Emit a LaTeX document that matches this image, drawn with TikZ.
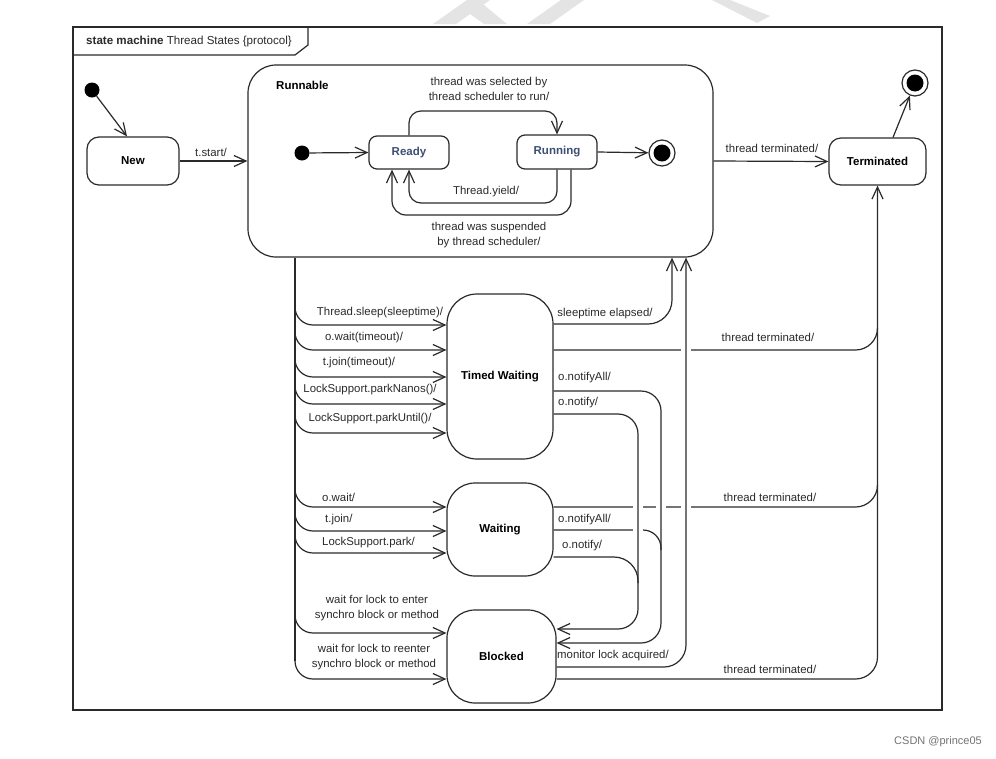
\documentclass[tikz,border=0pt]{standalone}
\usepackage{fontspec}
\setmainfont{Liberation Sans}
\usetikzlibrary{arrows.meta,calc}
\definecolor{lc}{HTML}{2A2A2A}
\definecolor{rtxt}{HTML}{3D4F73}
\definecolor{wmc}{HTML}{E4E4E4}
\begin{document}
\begin{tikzpicture}[x=1pt,y=1pt,
  lbl/.style={font=\fontsize{11.4}{15}\selectfont, text=lc, inner sep=0pt, align=center},
  stname/.style={font=\fontsize{11.5}{14}\selectfont\bfseries},
  statebox/.style={draw=lc, line width=1.2pt, rounded corners=#1, inner sep=0pt, fill=white},
  statebox/.default=10,
  tr/.style={draw=lc, line width=1.2pt, -{Straight Barb[length=12pt,width=11pt]}},
  plain/.style={draw=lc, line width=1.2pt},
  initst/.style={circle, fill=black, minimum size=15pt, inner sep=0pt},
  finst/.style={circle, draw=lc, line width=1.2pt, fill=white, minimum size=26pt, inner sep=0pt,
    path picture={\fill[black] (path picture bounding box.center) circle (8.5pt);}},
  gap/.style={fill=white}
]
\fill[white] (0,0) rectangle (996,-758);
\useasboundingbox (0,0) rectangle (996,-758);

% watermark fragments
\fill[wmc] (433,-24) -- (467,0) -- (490,0) -- (456,-24) -- cycle;
\fill[wmc] (478,0) -- (507,-24) -- (484,-24) -- (470,-14) -- cycle;
\fill[wmc] (527,-24) -- (561,0) -- (584,0) -- (550,-24) -- cycle;
\fill[wmc] (730,0) -- (770,-16) -- (757,-23) -- (712,0) -- cycle;

% frame
\draw[plain] (73,-27) rectangle (942,-710);
\draw[plain] (73,-55) -- (295,-55) -- (308,-45) -- (308,-27);
\node[anchor=west, inner sep=0pt, font=\fontsize{11.6}{14}\selectfont, text=lc] (hdr) at (86,-41)
  {\textbf{state machine} Thread States \{protocol\}};

% states
\node[initst] (init) at (92,-90) {};
\node[statebox=12, minimum width=92, minimum height=48, stname] (New) at (133,-161) {New};
\node[statebox=28, minimum width=465, minimum height=192] (Run) at (480.5,-161) {};
\node[stname, anchor=west, inner sep=0pt] (runlbl) at (276,-85) {Runnable};
\node[initst] (rinit) at (302,-153) {};
\node[statebox=8, minimum width=80, minimum height=33, stname, text=rtxt] (Ready) at (409,-152.5) {Ready};
\node[statebox=8, minimum width=80, minimum height=34, stname, text=rtxt] (Running) at (557,-152) {Running};
\node[finst] (rfin) at (662,-153) {};
\node[statebox=12, minimum width=97, minimum height=47, stname] (Term) at (877.5,-161.5) {Terminated};
\node[finst] (fin2) at (915,-83) {};
\node[statebox=30, minimum width=106, minimum height=165, stname] (TW) at (500,-376.5) {Timed Waiting};
\node[statebox=28, minimum width=106, minimum height=93, stname] (W) at (500,-529.5) {Waiting};
\node[statebox=28, minimum width=109, minimum height=93, stname] (B) at (501.5,-656.5) {Blocked};

% top transitions
\draw[tr] (init) -- (New.north -| 127,0);
\draw[tr] (New.east) -- (New.east -| Run.west);
\draw[tr] (rinit) -- (Ready.west);
\draw[tr, rounded corners=12] (Ready.north) |- (Running.north |- 0,-111) -- (Running.north);
\draw[tr] (Running.east) -- (rfin);
\draw[tr, rounded corners=12] (Running.south) |- (Ready.south |- 0,-203) -- (Ready.south);
\draw[tr, rounded corners=14] (Running.south -| 571,0) |- (392,-215) -- (Ready.south -| 392,0);
\draw[tr] (Run.east) -- (Term.west);
\draw[tr] (Term.north -| 893,0) -- (fin2);

% left bus
\coordinate (bus) at (Run.south -| 295,0);
\coordinate (busend) at (295,-661);
\draw[plain] (bus) -- (busend);
\foreach \yy in {325,350,377,404,433} {\draw[tr, rounded corners=18] (295,-\yy+18) |- (TW.west |- 0,-\yy);}
\foreach \yy in {507,531,553} {\draw[tr, rounded corners=18] (295,-\yy+18) |- (W.west |- 0,-\yy);}
\foreach \yy in {633,679} {\draw[tr, rounded corners=18] (295,-\yy+18) |- (B.west |- 0,-\yy);}

% right side: lines that are crossed with a gap
\coordinate (tjoin) at (877.5,-328);
\draw[tr, rounded corners=22] (TW.east |- 0,-350) -| (Term.south);
\draw[plain, rounded corners=22] (B.east |- 0,-679) -| (tjoin);
\draw[plain, rounded corners=22] (W.east |- 0,-507) -| (877.5,-485);
\draw[plain, rounded corners=18] (W.east |- 0,-530) -| (661,-550);
\draw[plain, rounded corners=24] (W.east |- 0,-557) -| (638,-583);
% gaps
\foreach \gx/\gy in {686/350,638/507,661/507,686/507,638/530}
  {\fill[gap] (\gx-5,-\gy-2.5) rectangle (\gx+5,-\gy+2.5);}
% lines passing over
\draw[tr, rounded corners=20] (TW.east |- 0,-391) -- (661,-391) -- (661,-643) -- (B.east |- 0,-643);
\draw[tr, rounded corners=20] (TW.east |- 0,-414) -- (638,-414) -- (638,-629) -- (B.east |- 0,-629);
\draw[tr, rounded corners=24] (TW.east |- 0,-324) -| (Run.south -| 672,0);
\draw[tr, rounded corners=22] (B.east |- 0,-667) -| (Run.south -| 686,0);

% labels
\node[lbl] (l1) at (211,-152) {t.start/};
\node[lbl] (l2) at (489,-88.5) {thread was selected by\\thread scheduler to run/};
\node[lbl] (l3) at (486,-192) {Thread.yield/};
\node[lbl] (l4) at (489,-235) {thread was suspended\\by thread scheduler/};
\node[lbl] (l5) at (772,-148) {thread terminated/};
\node[lbl] (l6) at (380,-313) {Thread.sleep(sleeptime)/};
\node[lbl] (l7) at (364,-338) {o.wait(timeout)/};
\node[lbl] (l8) at (359,-363) {t.join(timeout)/};
\node[lbl] (l9) at (370,-390) {LockSupport.parkNanos()/};
\node[lbl] (l10) at (370,-419) {LockSupport.parkUntil()/};
\node[lbl] (l11) at (605,-314) {sleeptime elapsed/};
\node[lbl] (l12) at (768,-337) {thread terminated/};
\node[lbl, anchor=west] (l13) at (558,-378) {o.notifyAll/};
\node[lbl, anchor=west] (l14) at (558,-403) {o.notify/};
\node[lbl, anchor=west] (l15) at (322,-497) {o.wait/};
\node[lbl, anchor=west] (l16) at (325,-520) {t.join/};
\node[lbl, anchor=west] (l17) at (322,-543) {LockSupport.park/};
\node[lbl] (l18) at (770,-497) {thread terminated/};
\node[lbl, anchor=west] (l19) at (558,-520) {o.notifyAll/};
\node[lbl, anchor=west] (l20) at (562,-546) {o.notify/};
\node[lbl] (l21) at (377,-608) {wait for lock to enter\\synchro block or method};
\node[lbl] (l22) at (374,-657) {wait for lock to reenter\\synchro block or method};
\node[lbl, anchor=west] (l23) at (557,-656) {monitor lock acquired/};
\node[lbl] (l24) at (770,-669) {thread terminated/};
\node[anchor=east, inner sep=0pt, font=\fontsize{11}{13}\selectfont, text=black!55] (csdn) at (982,-742) {CSDN @prince05};
\end{tikzpicture}
\end{document}
